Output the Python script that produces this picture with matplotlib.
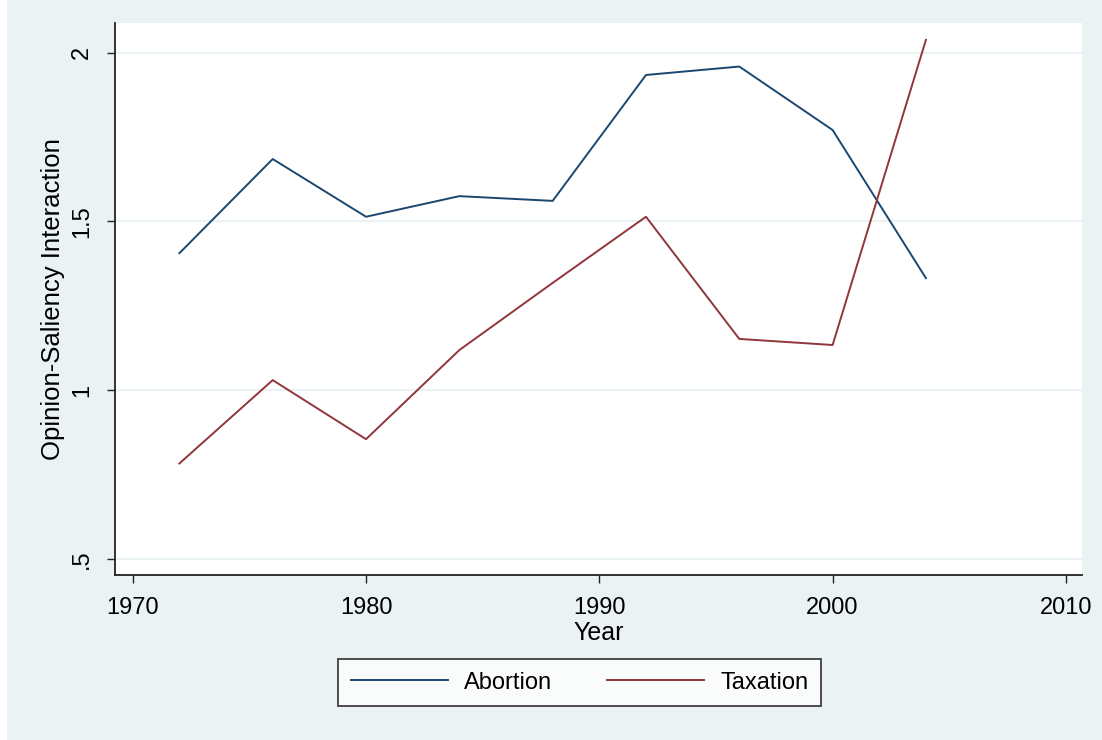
import matplotlib
matplotlib.use("Agg")
import matplotlib.pyplot as plt
from matplotlib.patches import Rectangle

# --- data ------------------------------------------------------------------
years = [1972, 1976, 1980, 1984, 1988, 1992, 1996, 2000, 2004]
abortion = [1.406, 1.685, 1.514, 1.575, 1.561, 1.934, 1.959, 1.771, 1.332]
taxation = [0.783, 1.030, 0.855, 1.119, 1.318, 1.514, 1.152, 1.134, 2.038]

xticks = [1970, 1980, 1990, 2000, 2010]
yticks = [0.5, 1.0, 1.5, 2.0]
ytick_labels = [".5", "1", "1.5", "2"]

NAVY = "#1A476F"
MAROON = "#90353B"
BG = "#EAF2F3"

plt.rcParams["font.family"] = ["Liberation Sans", "DejaVu Sans"]
FS = 17

W, H = 1102, 740
fig = plt.figure(figsize=(W / 100, H / 100), dpi=100, facecolor=BG)
fig.patches.append(Rectangle((0, 0), 6 / W, 1, transform=fig.transFigure,
                             color="white", zorder=0))

ax = fig.add_axes([115 / W, (H - 575) / H, (1082 - 115) / W, (575 - 23) / H])
ax.set_facecolor("white")

ax.plot(years, abortion, color=NAVY, lw=1.4, label="Abortion")
ax.plot(years, taxation, color=MAROON, lw=1.4, label="Taxation")

ax.set_xlim(1969.24, 2010.69)
ax.set_ylim(0.4526, 2.088)
ax.set_xticks(xticks)
ax.set_yticks(yticks)
ax.set_yticklabels(ytick_labels, rotation=90, va="center")
ax.grid(axis="y", color=BG, lw=1.5)
ax.set_axisbelow(True)

for s in ("top", "right"):
    ax.spines[s].set_visible(False)
for s in ("left", "bottom"):
    ax.spines[s].set_color("#222222")
    ax.spines[s].set_linewidth(1.3)
ax.tick_params(direction="out", length=6, width=1.0, color="#222222",
               labelsize=FS, pad=10)

ax.set_xlabel("Year", fontsize=18, labelpad=1)
ax.set_ylabel("Opinion-Saliency Interaction", fontsize=18.5)
ax.yaxis.set_label_coords(-0.052, 0.5)

leg = fig.legend(loc="center", bbox_to_anchor=(0.5259, 0.0777), ncol=2,
                 fontsize=FS, frameon=True, fancybox=False, shadow=False,
                 handlelength=4.1, handletextpad=0.7, columnspacing=2.3,
                 borderpad=0.55)
leg.get_frame().set_edgecolor("#222222")
leg.get_frame().set_linewidth(1.4)

fig.savefig("out.png", dpi=100, facecolor=BG)
